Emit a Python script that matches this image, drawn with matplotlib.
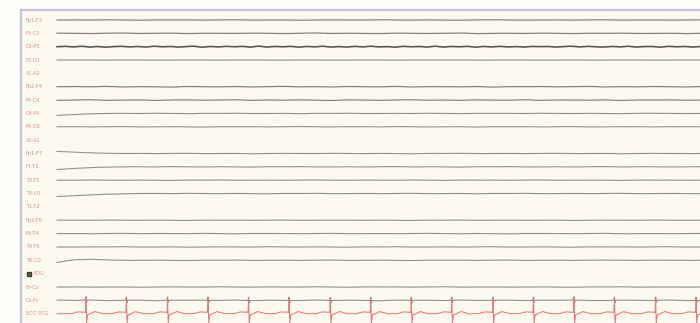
import numpy as np
import matplotlib
matplotlib.use("Agg")
import matplotlib.pyplot as plt

# ---------------- data ----------------
channel_labels = ["Fp1-F3", "F3-C3", "C3-P3", "P3-O1", "A1-A2",
                  "Fp2-F4", "F4-C4", "C4-P4", "P4-O2", "A2-A1",
                  "Fp1-F7", "F7-T3", "T3-T5", "T5-O1", "T1-T2",
                  "Fp2-F8", "F8-T4", "T4-T6", "T6-O2", "EOG",
                  "Fz-Cz", "Cz-Pz", "ECG ECG"]

# amplitudes (hundredths of a channel spacing, up positive), evenly spaced over 10 s
ch_Fp1F3 = [0,1,-1,2,0,-2,1,0,1,-1,0,2,-1,0,1,-2,0,1,0,-1,2,0,-1,1,0,-2,1,2,0,-1,0,1,-1,0,2,-1,0,1,-1,0,1]
ch_F3C3 = [2,0,-2,1,3,-1,0,2,-2,1,0,-1,2,1,-2,0,3,-1,1,0,-2,2,0,-1,1,3,-2,0,1,-1,2,0,-2,1,0,2,-1,0,1,-2,0]
ch_C3P3 = [0,3,-2,4,-3,2,-4,1,3,-2,2,-3,4,-1,2,-3,1,4,-4,2,-2,3,-1,3,-4,5,-3,2,-1,3,-4,2,-2,4,-3,1,-3,3,-2,4,
           -2,1,-4,3,-1,2,-3,4,-3,2,-1,3,-4,2,-2,3,-2,1,-3,2,0,
           2,-3,1,4,-2,3,-1,-3,2,-2,4,-3,1,2,-4,3,-1,2,-3,1]
ch_P3O1 = [0,1,0,-1,1,0,-1,0,1,0,-1,1,0,0,-1,1,0,-1,0,1,0,-1,1,0,0,1,-1,0,1,0,-1,0,1,-1,0,1,0,-1,0,1,0]
ch_Fp2F4 = [0,2,-1,3,-2,1,0,-3,2,1,-1,2,-2,0,3,-1,1,-2,2,0,-1,3,-2,1,0,-1,2,-3,1,0,2,-1,0,3,-2,1,-1,2,0,-2,1]
ch_F4C4 = [-2,1,3,-2,0,2,-3,1,2,-1,0,3,-2,1,-1,2,0,-3,2,1,-2,0,3,-1,1,-2,2,0,-1,3,-2,1,0,-1,2,-3,1,0,2,-1,0]
ch_C4P4 = [-14,-8,-3,0,1,-1,2,0,-2,1,0,2,-1,0,1,-2,1,0,2,-1,0,1,-1,2,0,-2,1,0,1,-1,2,0,-1,1,0,-2,1,2,0,-1,0]
ch_P4O2 = [0,1,-1,0,2,-1,0,1,0,-2,1,0,1,-1,0,2,0,-1,1,0,-1,2,0,-1,0,1,-2,1,0,1,-1,0,2,-1,0,1,0,-1,1,0,0]
ch_Fp1F7 = [16,10,5,2,0,1,-1,0,2,-1,0,1,-2,0,1,0,-1,2,0,-1,1,0,-2,1,0,2,-1,0,1,-1,0,2,-1,0,1,-2,0,1,0,-1,0]
ch_F7T3 = [-20,-12,-6,-2,0,1,-1,2,0,-1,1,0,-2,1,0,2,-1,0,1,-1,0,2,-1,1,0,-2,1,0,2,-1,0,1,-1,0,2,-1,1,0,-1,0,1]
ch_T3T5 = [0,-1,2,0,-1,1,0,-2,1,0,2,-1,0,1,-1,0,2,0,-1,1,0,-1,2,0,-2,1,0,1,-1,0,2,-1,0,1,0,-2,1,0,1,-1,0]
ch_T5O1 = [-22,-16,-10,-5,-2,0,1,-1,2,0,-1,1,0,-2,1,0,2,-1,0,1,-1,0,2,-1,0,1,-2,1,0,2,-1,0,1,-1,0,2,-1,0,1,0,-1]
ch_Fp2F8 = [1,0,-1,2,0,-1,1,0,-2,1,0,1,-1,0,2,-1,0,1,0,-1,1,0,-2,1,0,2,-1,0,1,-1,0,1,-2,0,1,0,-1,2,0,-1,0]
ch_F8T4 = [0,1,-1,0,2,-1,1,0,-1,2,0,-2,1,0,1,-1,0,2,-1,0,1,-1,0,2,0,-1,1,0,-2,1,0,1,-1,0,2,-1,0,1,-1,0,1]
ch_T4T6 = [0,-1,1,0,2,-1,0,1,-2,0,1,0,-1,2,0,-1,1,0,-2,1,0,2,-1,0,1,-1,0,2,-1,0,1,0,-2,1,0,1,-1,0,2,-1,0]
ch_T6O2 = [-16,4,8,3,0,-1,1,0,-2,1,0,2,-1,0,1,-1,0,2,-1,0,1,0,-2,1,0,1,-1,0,2,-1,0,1,-1,0,2,0,-1,1,0,-1,0]
ch_FzCz = [0,1,-1,0,1,-2,0,1,0,-1,2,0,-1,1,0,-1,2,0,-2,1,0,1,-1,0,2,-1,0,1,-1,0,1,0,-2,1,0,2,-1,0,1,-1,0]
ch_CzPz = [2,-1,3,-2,0,2,-3,1,0,2,-1,3,-2,1,0,-2,3,-1,1,0,-3,2,0,1,-2,3,-1,0,2,-2,1,0,3,-1,-2,2,0,-1,3,-2,0]

eeg_rows = {0: ch_Fp1F3, 1: ch_F3C3, 2: ch_C3P3, 3: ch_P3O1,
            5: ch_Fp2F4, 6: ch_F4C4, 7: ch_C4P4, 8: ch_P4O2,
            10: ch_Fp1F7, 11: ch_F7T3, 12: ch_T3T5, 13: ch_T5O1,
            15: ch_Fp2F8, 16: ch_F8T4, 17: ch_T4T6, 18: ch_T6O2,
            20: ch_FzCz, 21: ch_CzPz}

# R-peak times (s) read from the ECG channel
beat_times = [0.45, 1.08, 1.72, 2.35, 2.98, 3.61, 4.25, 4.88, 5.51, 6.14,
              6.78, 7.41, 8.04, 8.67, 9.31, 9.94]
# one ECG beat: offset from R peak (s) and amplitude (channel spacings, up positive)
beat_offsets = [-0.22, -0.16, -0.12, -0.08, -0.02, -0.008, 0.0, 0.010, 0.025, 0.05, 0.09, 0.14, 0.20, 0.27]
beat_amps    = [0.00,  0.10,  0.14,  0.12,  0.12,  0.08,  1.10, -0.70, -0.08, -0.05, 0.05, 0.16, 0.08, 0.00]
# ECG artefact seen on Cz-Pz
artefact_offsets = [-0.012, 0.0, 0.010, 0.022]
artefact_amps    = [0.0,    0.25, -0.15, 0.0]

duration = 10.0

# ---------------- figure ----------------
W, H = 700, 323
fig = plt.figure(figsize=(W / 100, H / 100), dpi=100, facecolor="#fefefb")
ax = fig.add_axes([21 / W, 0, 1 - 21 / W, 1 - 10 / H])
ax.set_facecolor("#fcfaef")

px_per_s = 64.3
x_start_px = 57 - 21
ax.set_xlim(-x_start_px / px_per_s, duration)
spacing_px = 13.35
ax.set_ylim((H - 10) / spacing_px - 0.75, -(20 - 10) / spacing_px)

t_dense = np.linspace(0, duration, 4001)

for row, vals in eeg_rows.items():
    v = np.array(vals) / 100.0
    tt = np.linspace(0, duration, len(v))
    y = np.interp(t_dense, tt, v)
    if row == 21:
        for bt in beat_times:
            y = y + np.interp(t_dense - bt, artefact_offsets, artefact_amps, left=0, right=0)
    if row == 2:
        color, lw = "#55554e", 1.15
    elif row in (0, 1, 5, 6):
        color, lw = "#808078", 0.85
    else:
        color, lw = "#92928a", 0.8
    ax.plot(t_dense, row - y, color=color, lw=lw, solid_joinstyle="round")

ecg = np.zeros_like(t_dense)
for bt in beat_times:
    ecg = ecg + np.interp(t_dense - bt, beat_offsets, beat_amps, left=0, right=0)
ax.plot(t_dense, 22 - ecg, color="#e67878", lw=0.75)

# labels
label_x = (26 - 57) / px_per_s
for i, lab in enumerate(channel_labels):
    xoff = label_x
    if i == 19:
        ax.plot([label_x + 0.04], [i], marker="s", ms=3.5, color="#55603a",
                markeredgecolor="#3a4028", clip_on=False)
        xoff = label_x + 0.12
    ax.text(xoff, i, lab, color="#ea8686", fontsize=3.6, va="center", ha="left")

for s in ("right", "bottom"):
    ax.spines[s].set_visible(False)
ax.spines["top"].set_color("#c9c2de")
ax.spines["top"].set_linewidth(1.6)
ax.spines["left"].set_color("#c9c2de")
ax.spines["left"].set_linewidth(1.6)
ax.set_xticks([])
ax.set_yticks([])

fig.savefig("out.png", dpi=100, facecolor=fig.get_facecolor())
